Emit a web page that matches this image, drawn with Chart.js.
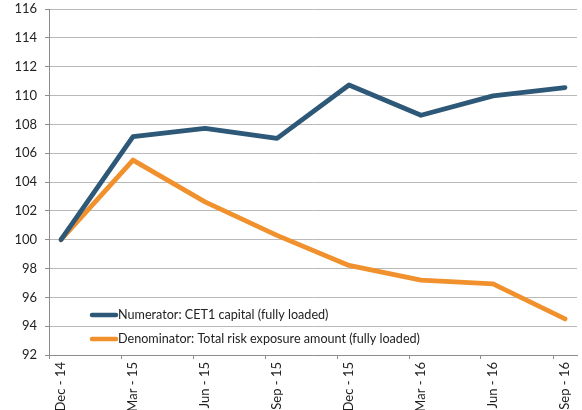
<!DOCTYPE html>
<html>
<head>
<meta charset="utf-8">
<script src="https://cdn.jsdelivr.net/npm/chart.js@4.4.1/dist/chart.umd.min.js"></script>
<style>
  html, body { margin: 0; padding: 0; background: #fff; }
  #wrap { width: 582px; height: 410px; position: relative; }
</style>
</head>
<body>
<div id="wrap"><canvas id="chart"></canvas></div>
<script>
// --- data ---
const categories = ['Dec - 14', 'Mar - 15', 'Jun - 15', 'Sep - 15', 'Dec - 15', 'Mar - 16', 'Jun - 16', 'Sep - 16'];
const numerator = [100, 107.14, 107.72, 107.03, 110.73, 108.63, 109.97, 110.55];
const denominator = [100, 105.52, 102.62, 100.3, 98.21, 97.2, 96.93, 94.5];
const seriesNames = ['Numerator: CET1 capital (fully loaded)', 'Denominator: Total risk exposure amount (fully loaded)'];
const yMin = 92, yMax = 116, yStep = 2;

const FONT = 'Lato';
const TXT = '#222222';
const GRID = '#b9b9b9';
const AXIS = '#8c8c8c';
const tickShift = 1 / 6; // tick marks sit a little left of each point

// legend drawn inside the plot, lower left
const innerLegend = {
    id: 'innerLegend',
    afterDraw(chart) {
        const ctx = chart.ctx;
        const area = chart.chartArea;
        const rows = [-40, -16];
        ctx.save();
        chart.data.datasets.forEach((ds, i) => {
            const y = area.bottom + rows[i];
            ctx.strokeStyle = ds.borderColor;
            ctx.lineWidth = 4.5;
            ctx.lineCap = 'round';
            ctx.beginPath();
            ctx.moveTo(area.left + 43, y);
            ctx.lineTo(area.left + 67, y);
            ctx.stroke();
            ctx.fillStyle = TXT;
            ctx.font = '12.6px ' + FONT;
            ctx.textBaseline = 'middle';
            ctx.fillText(ds.label, area.left + 69, y);
        });
        ctx.restore();
    }
};

const toPoints = arr => arr.map((v, i) => ({ x: i, y: v }));

new Chart(document.getElementById('chart'), {
    type: 'line',
    data: {
        datasets: [
            {
                label: seriesNames[0],
                data: toPoints(numerator),
                borderColor: '#2d5877',
                borderWidth: 4.8,
                pointRadius: 0,
                borderJoinStyle: 'round',
                borderCapStyle: 'round',
                tension: 0
            },
            {
                label: seriesNames[1],
                data: toPoints(denominator),
                borderColor: '#f0912e',
                borderWidth: 4.8,
                pointRadius: 0,
                borderJoinStyle: 'round',
                borderCapStyle: 'round',
                tension: 0
            }
        ]
    },
    options: {
        responsive: true,
        maintainAspectRatio: false,
        animation: false,
        layout: { padding: { top: 9, right: 5, left: 0, bottom: 0 } },
        plugins: {
            legend: { display: false },
            tooltip: { enabled: false }
        },
        scales: {
            x: {
                type: 'linear',
                min: -tickShift,
                max: categories.length - 1 + tickShift,
                afterBuildTicks: scale => {
                    scale.ticks = categories.map((c, i) => ({ value: i - tickShift }));
                },
                afterFit: scale => {
                    scale.height = 55;
                    scale.paddingTop = 0;
                    scale.paddingBottom = 0;
                    scale.paddingLeft = 0;
                    scale.paddingRight = 0;
                },
                grid: {
                    drawOnChartArea: false,
                    drawTicks: true,
                    tickLength: 4,
                    color: AXIS
                },
                border: { color: AXIS, width: 1 },
                ticks: {
                    autoSkip: false,
                    minRotation: 90,
                    maxRotation: 90,
                    labelOffset: 12,
                    padding: 3,
                    color: TXT,
                    font: { family: FONT, size: 13 },
                    callback: (val, idx) => categories[idx]
                }
            },
            y: {
                min: yMin,
                max: yMax,
                afterFit: scale => {
                    scale.width = 49;
                    scale.paddingTop = 0;
                    scale.paddingBottom = 0;
                },
                grid: {
                    color: GRID,
                    lineWidth: 1,
                    drawTicks: true,
                    tickLength: 4,
                    tickColor: AXIS
                },
                border: { color: AXIS, width: 1 },
                ticks: {
                    stepSize: yStep,
                    padding: 8,
                    color: TXT,
                    font: { family: FONT, size: 13 }
                }
            }
        }
    },
    plugins: [innerLegend]
});
</script>
</body>
</html>
